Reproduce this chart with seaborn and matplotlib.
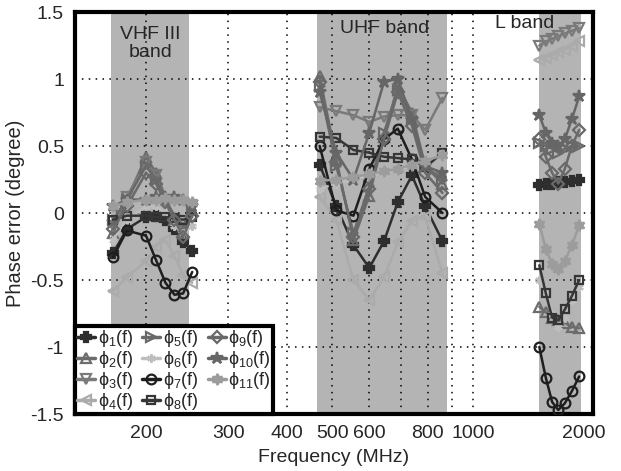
import numpy as np
import matplotlib
matplotlib.use("Agg")
import matplotlib.pyplot as plt
from matplotlib.lines import Line2D
import seaborn as sns

# -----------------------------
# DATA
# -----------------------------
vhf_freq = [170, 182, 200, 210, 220, 230, 240, 251]
uhf_freq = [470, 510, 555, 600, 645, 690, 740, 790, 860]
l_freq = [1385, 1430, 1475, 1520, 1570, 1625, 1685]

# phase error (degree), one row per phi_k
vhf_err = [
    [-0.30, -0.12, -0.03, -0.02, -0.05, -0.12, -0.22, -0.28],  # phi1
    [-0.15, 0.10, 0.42, 0.30, 0.12, -0.05, -0.15, 0.02],       # phi2
    [-0.10, 0.12, 0.38, 0.28, 0.10, -0.05, -0.12, 0.05],       # phi3
    [-0.58, -0.48, -0.36, -0.25, -0.20, -0.32, -0.46, -0.52],  # phi4
    [-0.05, 0.10, 0.35, 0.25, 0.10, -0.02, -0.10, 0.05],       # phi5
    [-0.20, -0.05, 0.05, 0.05, 0.00, -0.10, -0.15, -0.10],     # phi6
    [-0.33, -0.13, -0.17, -0.35, -0.52, -0.61, -0.60, -0.44],  # phi7
    [-0.05, -0.02, -0.02, -0.03, -0.03, -0.04, -0.05, -0.03],  # phi8
    [-0.12, 0.05, 0.30, 0.22, 0.08, -0.05, -0.18, -0.02],      # phi9
    [0.05, 0.10, 0.10, 0.12, 0.12, 0.12, 0.10, 0.05],          # phi10
    [0.05, 0.08, 0.10, 0.10, 0.11, 0.10, 0.10, 0.08],          # phi11
]
uhf_err = [
    [0.36, 0.05, -0.24, -0.41, -0.21, 0.08, 0.28, 0.05, -0.21],
    [1.02, 0.40, -0.20, 0.13, 0.57, 0.95, 0.75, 0.35, 0.22],
    [0.79, 0.76, 0.73, 0.68, 0.72, 0.73, 0.73, 0.62, 0.86],
    [0.12, -0.05, -0.50, -0.65, -0.48, -0.22, -0.06, -0.03, -0.45],
    [0.95, 0.35, -0.15, 0.20, 0.60, 0.92, 0.70, 0.35, 0.25],
    [0.18, 0.22, 0.25, 0.28, 0.30, 0.33, 0.35, 0.38, 0.42],
    [0.50, 0.02, -0.02, 0.33, 0.55, 0.63, 0.40, 0.12, 0.00],
    [0.57, 0.56, 0.47, 0.45, 0.42, 0.41, 0.40, 0.34, 0.45],
    [0.98, 0.38, -0.18, 0.18, 0.55, 0.90, 0.65, 0.30, 0.15],
    [0.90, 0.45, 0.25, 0.60, 0.98, 1.00, 0.70, 0.35, 0.30],
    [0.24, 0.25, 0.27, 0.29, 0.31, 0.33, 0.36, 0.39, 0.43],
]
l_err = [
    [0.21, 0.22, 0.22, 0.23, 0.23, 0.24, 0.25],
    [-0.70, -0.74, -0.78, -0.80, -0.82, -0.85, -0.86],
    [1.25, 1.28, 1.30, 1.32, 1.34, 1.36, 1.38],
    [1.14, 1.16, 1.18, 1.20, 1.22, 1.25, 1.28],
    [0.52, 0.50, 0.48, 0.45, 0.48, 0.50, 0.50],
    [-0.50, -0.60, -0.75, -0.85, -0.78, -0.65, -0.55],
    [-1.00, -1.23, -1.41, -1.47, -1.42, -1.33, -1.22],
    [-0.39, -0.60, -0.78, -0.80, -0.72, -0.62, -0.50],
    [0.55, 0.42, 0.30, 0.22, 0.33, 0.50, 0.62],
    [0.73, 0.60, 0.52, 0.50, 0.55, 0.70, 0.87],
    [-0.08, -0.27, -0.38, -0.42, -0.36, -0.24, -0.09],
]

labels = ["ϕ$_{%d}$(f)" % k for k in range(1, 12)]

# band shading (MHz)
band_lo = [168, 464, 1383]
band_hi = [247, 879, 1701]

x_ticks = [200, 300, 400, 500, 600, 800, 1000, 1720]
x_tick_labels = ["200", "300", "400", "500", "600", "800", "1000", "2000"]
x_grid = [200, 300, 400, 500, 600, 700, 800, 900, 1000]
y_ticks = [-1.5, -1, -0.5, 0, 0.5, 1, 1.5]
y_tick_labels = ["-1.5", "-1", "-0.5", "0", "0.5", "1", "1.5"]

# -----------------------------
# STYLE
# -----------------------------
colors = ["#2e2e2e", "#6c6c6c", "#7a7a7a", "#ababab", "#696969", "#bebebe",
          "#1e1e1e", "#363636", "#696969", "#666666", "#9c9c9c"]
markers = ["P", "^", "v", "<", ">", (6, 2, 0), "o", "s", "D", "*", (6, 1, 0)]
filled = [True, False, False, False, False, True, False, False, False, True, True]
msizes = [7, 7, 7, 7, 7, 6, 7, 6, 6, 9, 8]

sns.set_style("white")
plt.rcParams["font.family"] = ["Liberation Sans", "DejaVu Sans"]
plt.rcParams["mathtext.fontset"] = "custom"
plt.rcParams["mathtext.rm"] = "Liberation Sans"
plt.rcParams["mathtext.it"] = "Liberation Sans"

fig = plt.figure(figsize=(6.21, 4.71), dpi=100)
ax = fig.add_axes([0.1208, 0.121, 0.834, 0.8535])

for lo, hi in zip(band_lo, band_hi):
    ax.axvspan(lo, hi, color="#b4b4b4", lw=0, zorder=0)

for xv in x_grid:
    ax.axvline(xv, color="black", lw=1.1, ls=(0, (1, 3.5)), zorder=1)
for yv in y_ticks[1:-1]:
    ax.axhline(yv, color="black", lw=1.1, ls=(0, (1, 3.5)), zorder=1)

handles = []
for i in range(11):
    mfc = colors[i] if filled[i] else "none"
    for fr, vals in ((vhf_freq, vhf_err[i]), (uhf_freq, uhf_err[i]), (l_freq, l_err[i])):
        sns.lineplot(x=fr, y=vals, ax=ax, color=colors[i], marker=markers[i],
                     markersize=msizes[i], markerfacecolor=mfc,
                     markeredgecolor=colors[i], markeredgewidth=1.6,
                     lw=1.8, sort=False, legend=False, zorder=3)
    handles.append(Line2D([], [], color=colors[i], marker=markers[i],
                          markersize=msizes[i], markerfacecolor=mfc,
                          markeredgecolor=colors[i], markeredgewidth=1.6,
                          lw=2.5, label=labels[i]))

ax.set_xscale("log")
ax.set_xlim(141, 1803)
ax.set_ylim(-1.5, 1.5)
ax.set_xticks(x_ticks)
ax.set_xticklabels(x_tick_labels)
ax.minorticks_off()
ax.set_yticks(y_ticks)
ax.set_yticklabels(y_tick_labels)
ax.tick_params(axis="both", labelsize=14, length=0, pad=8)

ax.set_xlabel("Frequency (MHz)", fontsize=14, labelpad=5)
ax.set_ylabel("Phase error (degree)", fontsize=14.5, labelpad=4)

ax.text(204, 1.265, "VHF III\nband", ha="center", va="center", fontsize=14,
        linespacing=1.15, zorder=4)
ax.text(648, 1.38, "UHF band", ha="center", va="center", fontsize=14, zorder=4)
ax.text(1290, 1.415, "L band", ha="center", va="center", fontsize=14, zorder=4)

for sp in ax.spines.values():
    sp.set_linewidth(3)
    sp.set_color("black")
    sp.set_visible(True)

leg = ax.legend(handles=handles, loc="lower left", bbox_to_anchor=(0, 0),
                ncol=3, fontsize=13, frameon=True, fancybox=False,
                borderaxespad=0, borderpad=0.1, labelspacing=0.0,
                handlelength=1.0, handletextpad=0.15, columnspacing=0.5)
leg.get_frame().set_edgecolor("black")
leg.get_frame().set_linewidth(3)
leg.get_frame().set_alpha(1)
leg.set_zorder(10)

fig.savefig("out.png", dpi=100)
